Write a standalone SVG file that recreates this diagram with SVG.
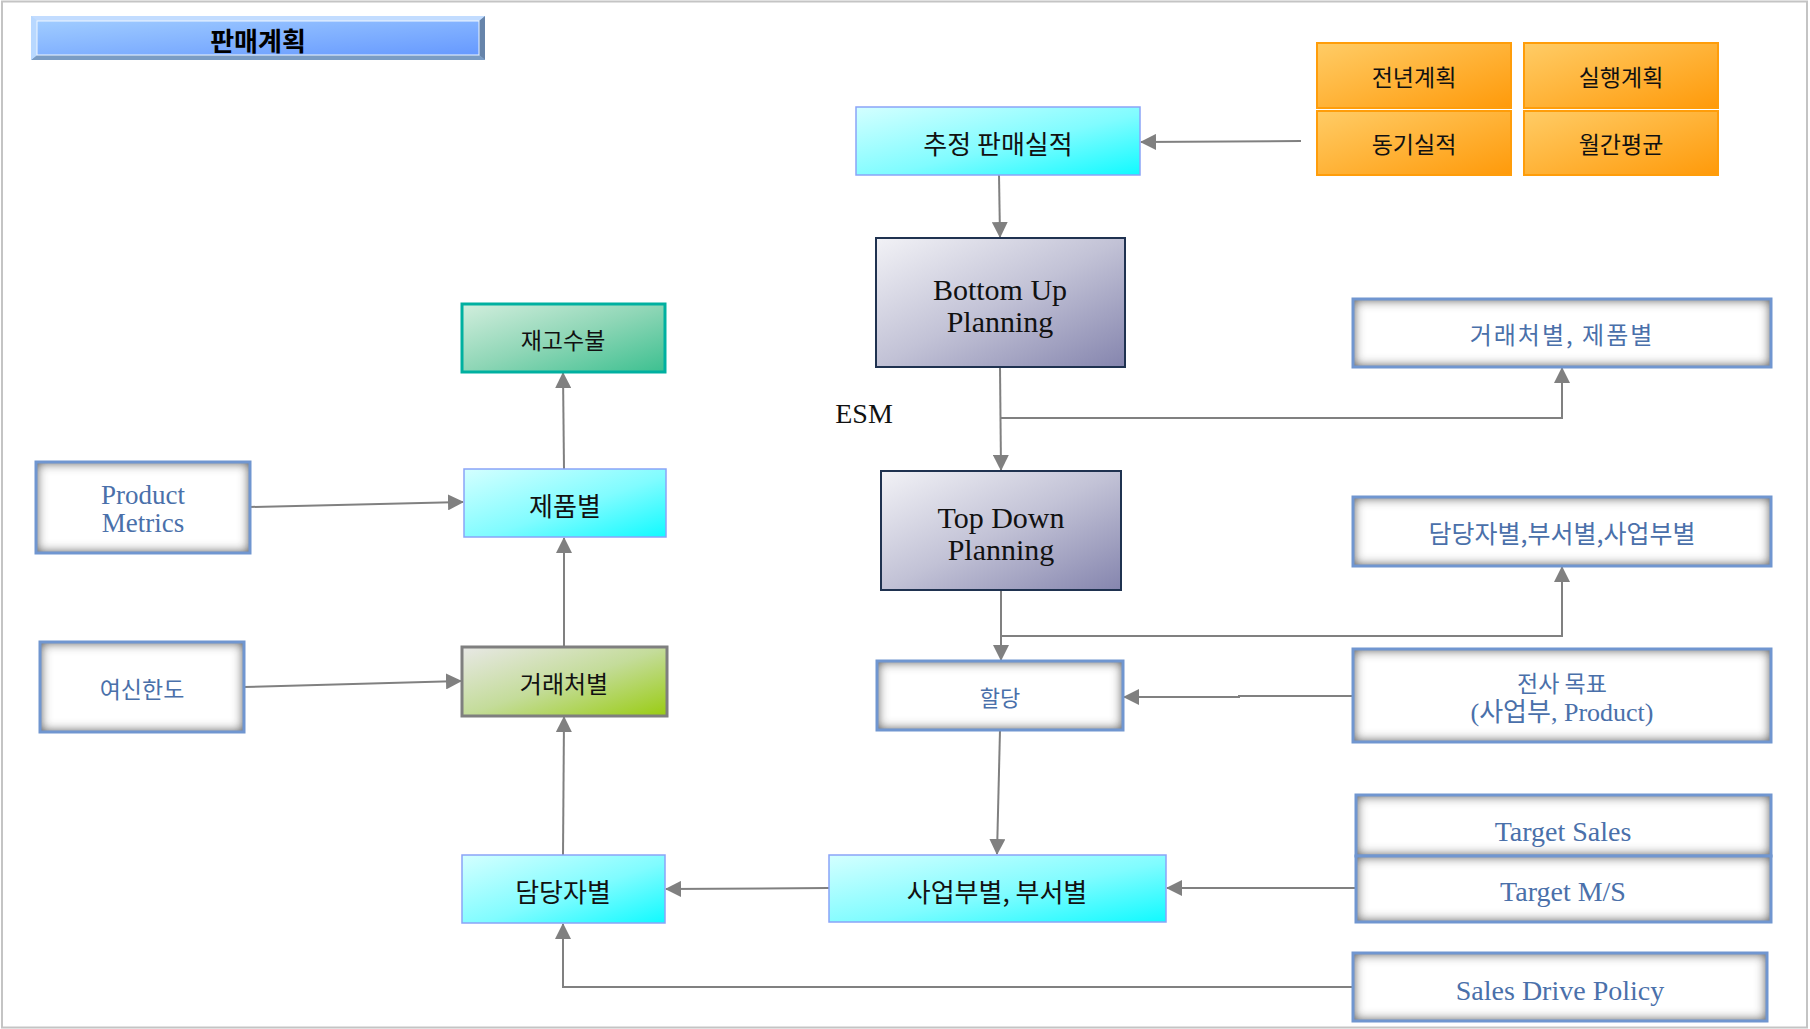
<svg xmlns="http://www.w3.org/2000/svg" width="1810" height="1029" viewBox="0 0 1810 1029">
<style>
.ko{font-family:"Noto Sans CJK KR","Noto Sans",sans-serif;text-anchor:middle;dominant-baseline:central}
.en{font-family:"Liberation Serif","Noto Sans CJK KR",serif;text-anchor:middle;dominant-baseline:central}
.blk{fill:#111111}
.blu{fill:#4a70aa}
.cyan{fill:url(#gCyan);stroke:#8aa4f8;stroke-width:1.5}
.orng{fill:url(#gOrange);stroke:#ff9d0a;stroke-width:2}
.plan{fill:url(#gPlan);stroke:#1f3250;stroke-width:2}
.wbox{fill:#ffffff;filter:url(#inset)}
.wedge{fill:none;stroke:#7096d0;stroke-width:3}
.conn{fill:none;stroke:#808080;stroke-width:2;marker-end:url(#ah)}
</style>
<defs>
<linearGradient id="gCyan" x1="0" y1="0" x2="1" y2="1">
<stop offset="0" stop-color="#d4ffff"/><stop offset="0.55" stop-color="#80fcff"/><stop offset="1" stop-color="#10faff"/>
</linearGradient>
<linearGradient id="gOrange" x1="0" y1="0" x2="1" y2="1">
<stop offset="0" stop-color="#ffcc66"/><stop offset="1" stop-color="#ff9a0a"/>
</linearGradient>
<linearGradient id="gPlan" x1="0" y1="0" x2="1" y2="1">
<stop offset="0" stop-color="#f2f2f6"/><stop offset="0.5" stop-color="#c2c2d6"/><stop offset="1" stop-color="#8585ae"/>
</linearGradient>
<linearGradient id="gTeal" x1="0" y1="0" x2="1" y2="1">
<stop offset="0" stop-color="#d2eedd"/><stop offset="0.5" stop-color="#8ed6b6"/><stop offset="1" stop-color="#3cc090"/>
</linearGradient>
<linearGradient id="gGreen" x1="0" y1="0" x2="1" y2="1">
<stop offset="0" stop-color="#e8e8e6"/><stop offset="0.5" stop-color="#c4dc9a"/><stop offset="1" stop-color="#99cc11"/>
</linearGradient>
<linearGradient id="gTitle" x1="0" y1="0" x2="1" y2="1">
<stop offset="0" stop-color="#a0ccff"/><stop offset="1" stop-color="#6699ff"/>
</linearGradient>
<filter id="inset" x="-10%" y="-20%" width="120%" height="140%">
<feFlood flood-color="#606060" result="f"/>
<feComposite in="f" in2="SourceAlpha" operator="out" result="o"/>
<feGaussianBlur in="o" stdDeviation="6" result="b"/>
<feComposite in="b" in2="SourceAlpha" operator="in" result="s"/>
<feMerge><feMergeNode in="SourceGraphic"/><feMergeNode in="s"/><feMergeNode in="s"/></feMerge>
</filter>
<marker id="ah" markerWidth="8" markerHeight="8" refX="7.5" refY="4" orient="auto" markerUnits="strokeWidth">
<path d="M0,0 L8,4 L0,8 z" fill="#808080"/>
</marker>
</defs>

<rect x="2" y="1.5" width="1805" height="1026" fill="#ffffff" stroke="#c4c4c4" stroke-width="2"/>

<g id="title">
<rect x="31" y="16" width="454" height="44" fill="#b4d4f8"/>
<polygon points="31,16 485,16 479,21 37,21" fill="#c2dcff"/>
<polygon points="31,60 485,60 479,55 37,55" fill="#7a9cc4"/>
<polygon points="31,16 37,21 37,55 31,60" fill="#b8d8ff"/>
<polygon points="485,16 479,21 479,55 485,60" fill="#6684aa"/>
<rect x="37" y="21" width="442" height="34" fill="url(#gTitle)" stroke="#eef6ff" stroke-width="1"/>
<text class="ko" x="258" y="39" font-size="26" font-weight="bold" fill="#000">판매계획</text>
</g>

<g id="connectors">
<path class="conn" d="M1301,141 L1141,142"/>
<path class="conn" d="M999,175 L1000,237"/>
<path class="conn" d="M1000,367 L1001,470"/>
<path class="conn" d="M1001,418 L1562,418 L1562,368"/>
<path class="conn" d="M1001,590 L1001,660"/>
<path class="conn" d="M1001,636 L1562,636 L1562,567"/>
<path class="conn" d="M1353,696 L1239,696 L1239,697 L1124,697"/>
<path class="conn" d="M1000,730 L997,854"/>
<path class="conn" d="M1356,888 L1167,888"/>
<path class="conn" d="M829,888 L666,889"/>
<path class="conn" d="M1353,987 L563,987 L563,924"/>
<path class="conn" d="M563,855 L564,717"/>
<path class="conn" d="M244,687 L461,681"/>
<path class="conn" d="M564,647 L564,538"/>
<path class="conn" d="M250,507 L463,502"/>
<path class="conn" d="M564,469 L563,373"/>
</g>

<g id="n-chujeong">
<rect class="cyan" x="856" y="107" width="284" height="68"/>
<text class="ko blk" x="998" y="142" font-size="26">추정 판매실적</text>
</g>

<g id="n-jeonnyeon">
<rect class="orng" x="1317" y="43" width="194" height="65"/>
<text class="ko blk" x="1414" y="76" font-size="23">전년계획</text>
</g>
<g id="n-silhaeng">
<rect class="orng" x="1524" y="43" width="194" height="65"/>
<text class="ko blk" x="1621" y="76" font-size="23">실행계획</text>
</g>
<g id="n-donggi">
<rect class="orng" x="1317" y="111" width="194" height="64"/>
<text class="ko blk" x="1414" y="143" font-size="23">동기실적</text>
</g>
<g id="n-wolgan">
<rect class="orng" x="1524" y="111" width="194" height="64"/>
<text class="ko blk" x="1621" y="143" font-size="23">월간평균</text>
</g>

<g id="n-bottomup">
<rect class="plan" x="876" y="238" width="249" height="129"/>
<text class="en blk" x="1000" y="289" font-size="30">Bottom Up</text>
<text class="en blk" x="1000" y="321" font-size="30">Planning</text>
</g>

<g id="esm-label">
<text class="en blk" x="864" y="413" font-size="28">ESM</text>
</g>

<g id="n-topdown">
<rect class="plan" x="881" y="471" width="240" height="119"/>
<text class="en blk" x="1001" y="517" font-size="30">Top Down</text>
<text class="en blk" x="1001" y="549" font-size="30">Planning</text>
</g>

<g id="n-geoggae-jepum">
<rect class="wbox" x="1353" y="299" width="418" height="68"/>
<rect class="wedge" x="1353" y="299" width="418" height="68"/>
<text class="ko blu" x="1562" y="333" font-size="24" letter-spacing="2">거래처별, 제품별</text>
</g>

<g id="n-damdang-list">
<rect class="wbox" x="1353" y="497" width="418" height="69"/>
<rect class="wedge" x="1353" y="497" width="418" height="69"/>
<text class="ko blu" x="1562" y="532" font-size="25">담당자별,부서별,사업부별</text>
</g>

<g id="n-haldang">
<rect class="wbox" x="877" y="661" width="246" height="69"/>
<rect class="wedge" x="877" y="661" width="246" height="69"/>
<text class="ko blu" x="1000" y="696" font-size="22">할당</text>
</g>

<g id="n-jeonsa">
<rect class="wbox" x="1353" y="649" width="418" height="93"/>
<rect class="wedge" x="1353" y="649" width="418" height="93"/>
<text class="ko blu" x="1562" y="682" font-size="23">전사 목표</text>
<text class="en blu" x="1562" y="712" font-size="26">(사업부, Product)</text>
</g>

<g id="n-target-sales">
<rect class="wbox" x="1356" y="795" width="415" height="61"/>
<rect class="wedge" x="1356" y="795" width="415" height="61"/>
<text class="en blu" x="1563" y="831" font-size="28">Target Sales</text>
</g>
<g id="n-target-ms">
<rect class="wbox" x="1356" y="856" width="415" height="66"/>
<rect class="wedge" x="1356" y="856" width="415" height="66"/>
<text class="en blu" x="1563" y="891" font-size="28">Target M/S</text>
</g>

<g id="n-sales-drive">
<rect class="wbox" x="1353" y="953" width="414" height="68"/>
<rect class="wedge" x="1353" y="953" width="414" height="68"/>
<text class="en blu" x="1560" y="990" font-size="28">Sales Drive Policy</text>
</g>

<g id="n-saeopbu">
<rect class="cyan" x="829" y="855" width="337" height="67"/>
<text class="ko blk" x="997" y="890" font-size="26">사업부별, 부서별</text>
</g>

<g id="n-damdangja">
<rect class="cyan" x="462" y="855" width="203" height="68"/>
<text class="ko blk" x="563" y="890" font-size="26">담당자별</text>
</g>

<g id="n-georaecheo">
<rect x="462" y="647" width="205" height="69" fill="url(#gGreen)" stroke="#7f7f7f" stroke-width="3"/>
<text class="ko blk" x="564" y="682" font-size="24">거래처별</text>
</g>

<g id="n-yeosin">
<rect class="wbox" x="40" y="642" width="204" height="90"/>
<rect class="wedge" x="40" y="642" width="204" height="90"/>
<text class="ko blu" x="142" y="688" font-size="23">여신한도</text>
</g>

<g id="n-jepum">
<rect class="cyan" x="464" y="469" width="202" height="68"/>
<text class="ko blk" x="565" y="504" font-size="26">제품별</text>
</g>

<g id="n-product-metrics">
<rect class="wbox" x="36" y="462" width="214" height="91"/>
<rect class="wedge" x="36" y="462" width="214" height="91"/>
<text class="en blu" x="143" y="495" font-size="27">Product</text>
<text class="en blu" x="143" y="523" font-size="27">Metrics</text>
</g>

<g id="n-jaego">
<rect x="462" y="304" width="203" height="68" fill="url(#gTeal)" stroke="#00b0a0" stroke-width="3"/>
<text class="ko blk" x="563" y="339" font-size="23">재고수불</text>
</g>
</svg>
